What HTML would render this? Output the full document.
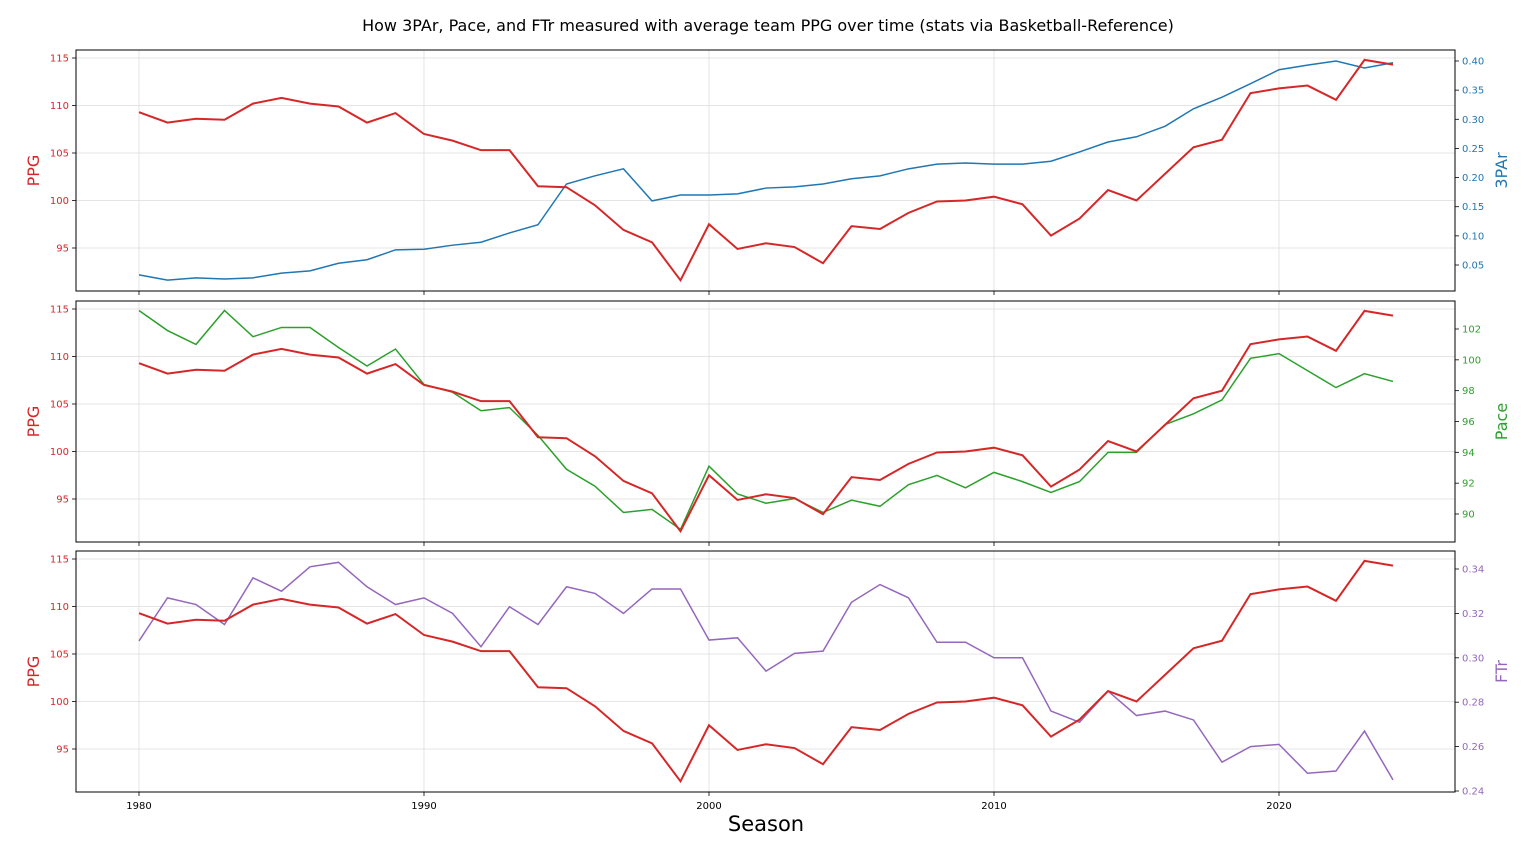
<!DOCTYPE html>
<html><head><meta charset="utf-8"><style>
html,body{margin:0;padding:0;background:#fff;}
svg{display:block;font-family:"DejaVu Sans","Liberation Sans",sans-serif;}
</style></head><body>
<svg id="chart" width="1536" height="850">
<text x="768" y="31" text-anchor="middle" font-size="16">How 3PAr, Pace, and FTr measured with average team PPG over time (stats via Basketball-Reference)</text>
<text x="766" y="831" text-anchor="middle" font-size="21">Season</text>
</svg>
<script>
const seasons = [];
for (let y = 1980; y <= 2024; y++) seasons.push(y);
const ppg = [109.3,108.2,108.6,108.5,110.2,110.8,110.2,109.9,108.2,109.2,107.0,106.3,105.3,105.3,101.5,101.4,99.5,96.9,95.6,91.6,97.5,94.9,95.5,95.1,93.4,97.3,97.0,98.7,99.9,100.0,100.4,99.6,96.3,98.1,101.1,100.0,102.8,105.6,106.4,111.3,111.8,112.1,110.6,114.8,114.3];
const threePAr = [0.033,0.024,0.028,0.026,0.028,0.036,0.040,0.053,0.059,0.076,0.077,0.084,0.089,0.105,0.119,0.189,0.203,0.215,0.160,0.170,0.170,0.172,0.182,0.184,0.189,0.198,0.203,0.215,0.223,0.225,0.223,0.223,0.228,0.244,0.261,0.270,0.288,0.318,0.338,0.361,0.385,0.393,0.400,0.388,0.397];
const pace = [103.2,101.9,101.0,103.2,101.5,102.1,102.1,100.8,99.6,100.7,98.4,97.9,96.7,96.9,95.1,92.9,91.8,90.1,90.3,89.0,93.1,91.3,90.7,91.0,90.1,90.9,90.5,91.9,92.5,91.7,92.7,92.1,91.4,92.1,94.0,94.0,95.8,96.5,97.4,100.1,100.4,99.3,98.2,99.1,98.6];
const ftr = [0.3076,0.327,0.324,0.315,0.336,0.330,0.341,0.343,0.332,0.324,0.327,0.320,0.305,0.323,0.315,0.332,0.329,0.320,0.331,0.331,0.308,0.309,0.294,0.302,0.303,0.325,0.333,0.327,0.307,0.307,0.300,0.300,0.276,0.271,0.285,0.274,0.276,0.272,0.253,0.260,0.261,0.248,0.249,0.267,0.245];
const xTicks = [1980,1990,2000,2010,2020];
const ppgTicks = [95,100,105,110,115];
const threeTicks = [0.05,0.10,0.15,0.20,0.25,0.30,0.35,0.40];
const paceTicks = [90,92,94,96,98,100,102];
const ftrTicks = [0.24,0.26,0.28,0.30,0.32,0.34];

const NS = "http://www.w3.org/2000/svg";
const svg = document.getElementById('chart');
const L = 76, R = 1455;
const xs = v => 139 + (v - 1980) * (1279 - 139) / 40;
function mk(tag, attrs, parent) {
  const e = document.createElementNS(NS, tag);
  for (const k in attrs) e.setAttribute(k, attrs[k]);
  (parent || svg).appendChild(e);
  return e;
}
const panels = [
  {top:50, bot:291, name:'3par', label:'3PAr', color:'#1f77b4', data:threePAr, ticks:threeTicks, ty:[0.05,265,0.40,61], fmt:v=>v.toFixed(2)},
  {top:301, bot:542, name:'pace', label:'Pace', color:'#2ca02c', data:pace, ticks:paceTicks, ty:[90,514,102,329], fmt:v=>String(v)},
  {top:551, bot:792, name:'ftr', label:'FTr', color:'#9467bd', data:ftr, ticks:ftrTicks, ty:[0.24,791,0.34,569], fmt:v=>v.toFixed(2)}
];
const RED = '#d62728';
panels.forEach((p, i) => {
  const g = mk('g', {});
  
  
  const off = p.top - 50;
  const yL = v => 58 + off + (115 - v) * 9.5;
  const yR = v => p.ty[1] + (v - p.ty[0]) * (p.ty[3] - p.ty[1]) / (p.ty[2] - p.ty[0]);
  xTicks.forEach(t => {
    const ln = mk('line', {x1:xs(t), x2:xs(t), y1:p.top, y2:p.bot, stroke:'#dddddd', 'stroke-width':0.8}, g);
    
    
    mk('line', {x1:xs(t), x2:xs(t), y1:p.bot, y2:p.bot+4, stroke:'#000', 'stroke-width':0.8}, g);
    if (i === 2) {
      const tx = mk('text', {x:xs(t), y:p.bot+17, 'text-anchor':'middle', 'font-size':10}, g);
      tx.textContent = t;
      
      
    }
  });
  ppgTicks.forEach(t => {
    const y = yL(t);
    const ln = mk('line', {x1:L, x2:R, y1:y, y2:y, stroke:'#dddddd', 'stroke-width':0.8}, g);
    
    
    mk('line', {x1:L-4, x2:L, y1:y, y2:y, stroke:'#000', 'stroke-width':0.8}, g);
    const tx = mk('text', {x:L-7, y:y+3.5, 'text-anchor':'end', 'font-size':10, fill:RED}, g);
    tx.textContent = t;
    
    
  });
  p.ticks.forEach(t => {
    const y = yR(t);
    mk('line', {x1:R, x2:R+4, y1:y, y2:y, stroke:'#000', 'stroke-width':0.8}, g);
    const tx = mk('text', {x:R+7, y:y+3.5, 'font-size':10, fill:p.color}, g);
    tx.textContent = p.fmt(t);
    
    
  });
  const sec = mk('polyline', {points: seasons.map((s,j)=>xs(s)+','+yR(p.data[j])).join(' '), fill:'none', stroke:p.color, 'stroke-width':1.5}, g);
  
  
  const pl = mk('polyline', {points: seasons.map((s,j)=>xs(s)+','+yL(ppg[j])).join(' '), fill:'none', stroke:RED, 'stroke-width':2}, g);
  
  
  const fr = mk('rect', {x:L, y:p.top, width:R-L, height:p.bot-p.top, fill:'none', stroke:'#000', 'stroke-width':1}, g);
  
  
  const cy = (p.top + p.bot) / 2;
  const la = mk('text', {x:39, y:cy, transform:`rotate(-90 39 ${cy})`, 'text-anchor':'middle', 'font-size':16, fill:RED}, g);
  la.textContent = 'PPG';
  
  
  const ra = mk('text', {x:1507, y:cy, transform:`rotate(-90 1507 ${cy})`, 'text-anchor':'middle', 'font-size':16, fill:p.color}, g);
  ra.textContent = p.label;
  
  
});
</script>
</body></html>
